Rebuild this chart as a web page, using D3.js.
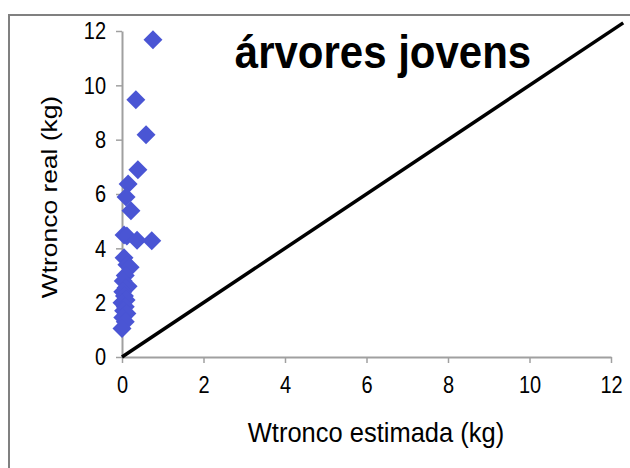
<!DOCTYPE html>
<html>
<head>
<meta charset="utf-8">
<script src="https://cdn.jsdelivr.net/npm/d3@7"></script>
<style>
  html, body { margin: 0; padding: 0; background: #fff; }
  svg { display: block; font-family: "Liberation Sans", Arial, sans-serif; }
</style>
</head>
<body>
<svg id="chart" width="630" height="468"></svg>
<script>
// Estimated vs. measured trunk biomass (young trees)
const estimada = [0.76, 0.34, 0.59, 0.39, 0.15, 0.10, 0.22, 0.05, 0.12, 0.37, 0.73,
                  0.05, 0.12, 0.20, 0.08, 0.03, 0.15, 0.10, 0.02, 0.06, 0.10, 0.00,
                  0.08, 0.04, 0.12, 0.02, 0.08, 0.00];
const real     = [11.68, 9.47, 8.18, 6.89, 6.37, 5.89, 5.38, 4.49, 4.45, 4.30, 4.28,
                  3.65, 3.40, 3.30, 3.00, 2.80, 2.60, 2.55, 2.40, 2.25, 2.10, 2.00,
                  1.85, 1.70, 1.60, 1.45, 1.30, 1.05];
const linha1x1 = [0, 12.3];
const ticks = [0, 2, 4, 6, 8, 10, 12];

const svg = d3.select("#chart");

// outer chart frame
svg.append("rect")
  .attr("x", 9).attr("y", 15).attr("width", 640).attr("height", 470)
  .attr("fill", "none").attr("stroke", "#808080").attr("stroke-width", 2);

const x = d3.scaleLinear().domain([0, 12]).range([122, 611]);
const y = d3.scaleLinear().domain([0, 12]).range([357, 31]);

const axisColor = "#a0a0a0";

const gx = svg.append("g").attr("transform", `translate(0,${y(0)})`)
  .call(d3.axisBottom(x).tickValues(ticks).tickSize(6).tickPadding(10).tickSizeOuter(0));
const gy = svg.append("g").attr("transform", `translate(${x(0)},0)`)
  .call(d3.axisLeft(y).tickValues(ticks).tickSize(6).tickPadding(10).tickSizeOuter(0));

[gx, gy].forEach(g => {
  g.select(".domain").attr("stroke", axisColor).attr("stroke-width", 2);
  g.selectAll(".tick line").attr("stroke", axisColor).attr("stroke-width", 1.5);
  g.selectAll(".tick text").attr("fill", "#000")
    .attr("transform", "scale(1,1.2)")
    .style("font-size", "20px").style("font-family", "'Liberation Sans', Arial, sans-serif");
});

// 1:1 reference line
svg.append("line")
  .attr("x1", x(linha1x1[0])).attr("y1", y(linha1x1[0]))
  .attr("x2", x(linha1x1[1])).attr("y2", y(linha1x1[1]))
  .attr("stroke", "#000").attr("stroke-width", 3.5);

// data points as diamonds
const diamond = d3.symbol().type(d3.symbolSquare).size(180);
svg.append("g").selectAll("path")
  .data(d3.range(estimada.length))
  .join("path")
  .attr("d", diamond)
  .attr("transform", i => `translate(${x(estimada[i])},${y(real[i])}) rotate(45)`)
  .attr("fill", "#4a55d4");

// titles
svg.append("text")
  .attr("transform", "translate(383,68) scale(1,1.08)")
  .attr("text-anchor", "middle")
  .style("font-size", "42px").style("font-weight", "bold")
  .text("árvores jovens");

svg.append("text")
  .attr("transform", "translate(376,442) scale(1,1.12)")
  .attr("text-anchor", "middle")
  .style("font-size", "25.5px")
  .text("Wtronco estimada (kg)");

svg.append("text")
  .attr("transform", "translate(57,197) rotate(-90) scale(1.2,1)")
  .attr("text-anchor", "middle")
  .style("font-size", "22px")
  .text("Wtronco real (kg)");
</script>
</body>
</html>
